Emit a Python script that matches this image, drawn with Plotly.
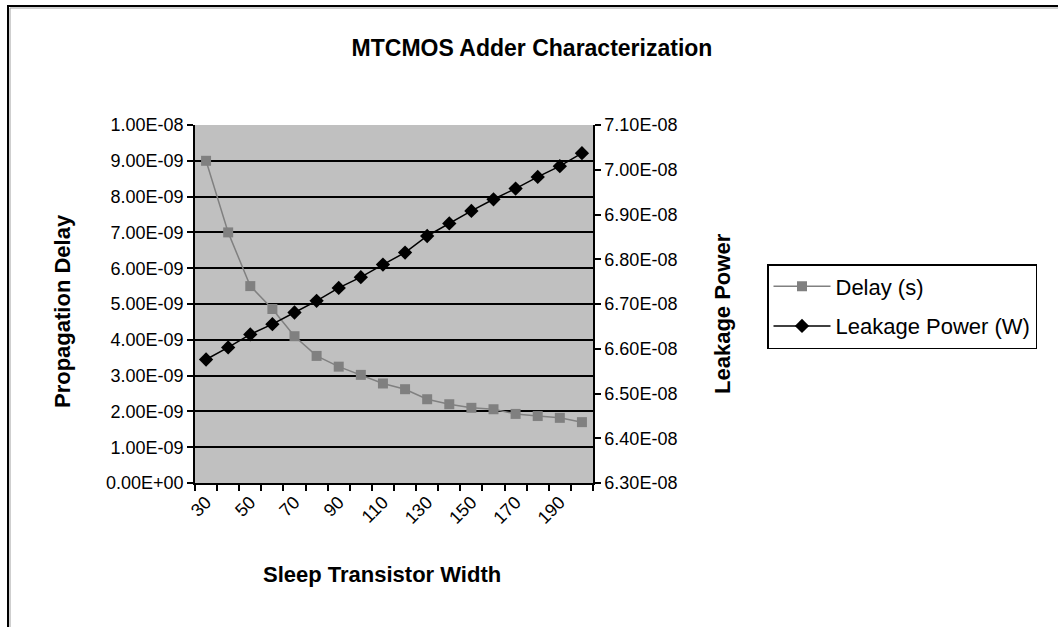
import numpy as np
import plotly.graph_objects as go

# ---- data ----
widths = [30, 40, 50, 60, 70, 80, 90, 100, 110, 120, 130, 140, 150, 160, 170, 180, 190, 200]
delay_s = [9.0e-9, 7.0e-9, 5.5e-9, 4.86e-9, 4.1e-9, 3.55e-9, 3.25e-9, 3.02e-9, 2.78e-9,
           2.62e-9, 2.34e-9, 2.2e-9, 2.1e-9, 2.06e-9, 1.93e-9, 1.87e-9, 1.82e-9, 1.70e-9]
leakage_w = [6.576e-8, 6.603e-8, 6.632e-8, 6.655e-8, 6.681e-8, 6.707e-8, 6.736e-8, 6.760e-8,
             6.788e-8, 6.815e-8, 6.852e-8, 6.880e-8, 6.908e-8, 6.934e-8, 6.958e-8, 6.984e-8,
             7.008e-8, 7.037e-8]
left_ticks = [i * 1e-9 for i in range(11)]
right_ticks = [(63 + i) * 1e-9 for i in range(9)]
x_labels = widths[::2]

FONT = "Liberation Sans, Arial, sans-serif"
W, H = 1058, 627
ML, MR, MT, MB = 195, 465, 125, 144
pw, ph = W - ML - MR, H - MT - MB

def px2x(px):
    return (px - ML) / pw

def py2y(py):
    return (H - MB - py) / ph

half = (widths[1] - widths[0]) / 2
boundaries = [w - half for w in widths] + [widths[-1] + half]

fig = go.Figure()
fig.add_trace(go.Scatter(
    x=widths, y=delay_s, name="Delay (s)", mode="lines+markers",
    line=dict(color="#808080", width=1.5),
    marker=dict(symbol="square", size=10, color="#808080"),
    legendgroup="a", yaxis="y"))
fig.add_trace(go.Scatter(
    x=widths, y=leakage_w, name="Leakage Power (W)", mode="lines+markers",
    line=dict(color="#000000", width=1.5),
    marker=dict(symbol="diamond", size=11, color="#000000"),
    legendgroup="b", yaxis="y2"))

fig.update_layout(
    width=W, height=H,
    margin=dict(l=ML, r=MR, t=MT, b=MB),
    paper_bgcolor="white",
    plot_bgcolor="#C0C0C0",
    font=dict(family=FONT, size=18, color="black"),
    showlegend=True,
    title=dict(text="<b>MTCMOS Adder Characterization</b>", x=532 / W, xanchor="center",
               y=1 - 48 / H, yanchor="middle", font=dict(size=23, family=FONT)),
    xaxis=dict(
        range=[boundaries[0], boundaries[-1]], tickmode="array", tickvals=x_labels,
        ticktext=[str(v) for v in x_labels], ticks="", tickangle=-45,
        showline=True, linecolor="black", linewidth=1.5, showgrid=False, zeroline=False,
        tickfont=dict(size=18),
        minor=dict(tickmode="array", tickvals=boundaries, ticks="outside", ticklen=6,
                   tickcolor="black", tickwidth=1.5, showgrid=False),
    ),
    yaxis=dict(
        range=[left_ticks[0], left_ticks[-1]], tickmode="array", tickvals=left_ticks,
        ticktext=[f"{v:.2E}" for v in left_ticks], ticks="outside", ticklen=6,
        tickcolor="black", tickwidth=1.5, showline=True, linecolor="black", linewidth=1.5,
        showgrid=True, gridcolor="black", gridwidth=1.8, zeroline=False,
        tickfont=dict(size=18),
    ),
    yaxis2=dict(
        range=[right_ticks[0], right_ticks[-1]], tickmode="array", tickvals=right_ticks,
        ticktext=[f"{v:.2E}" for v in right_ticks], ticks="outside", ticklen=6,
        tickcolor="black", tickwidth=1.5, showline=True, linecolor="black", linewidth=1.5,
        overlaying="y", side="right", showgrid=False, zeroline=False,
        tickfont=dict(size=18),
    ),
    legend=dict(
        x=px2x(767), y=py2y(264), xanchor="left", yanchor="top",
        bordercolor="black", borderwidth=1.5, bgcolor="white",
        font=dict(size=22, family=FONT), traceorder="grouped", tracegroupgap=8,
        itemwidth=57,
    ),
)

# axis titles
fig.add_annotation(text="<b>Propagation Delay</b>", xref="paper", yref="paper",
                   x=px2x(62), y=py2y(311), textangle=-90, showarrow=False,
                   font=dict(size=22, family=FONT), xanchor="center", yanchor="middle")
fig.add_annotation(text="<b>Leakage Power</b>", xref="paper", yref="paper",
                   x=px2x(722), y=py2y(314), textangle=-90, showarrow=False,
                   font=dict(size=22, family=FONT), xanchor="center", yanchor="middle")
fig.add_annotation(text="<b>Sleep Transistor Width</b>", xref="paper", yref="paper",
                   x=px2x(382), y=py2y(574), showarrow=False,
                   font=dict(size=22, family=FONT), xanchor="center", yanchor="middle")

# chart border (only left/top visible in the frame)
fig.add_shape(type="rect", xref="paper", yref="paper",
              x0=px2x(8), x1=px2x(W + 20), y0=py2y(H + 20), y1=py2y(6),
              line=dict(color="black", width=2), layer="above")
fig.add_shape(type="rect", xref="paper", yref="paper",
              x0=px2x(10), x1=px2x(W + 20), y0=py2y(H + 20), y1=py2y(8),
              line=dict(color="#A0A0A0", width=1), layer="above")

fig.write_html("out.html")
